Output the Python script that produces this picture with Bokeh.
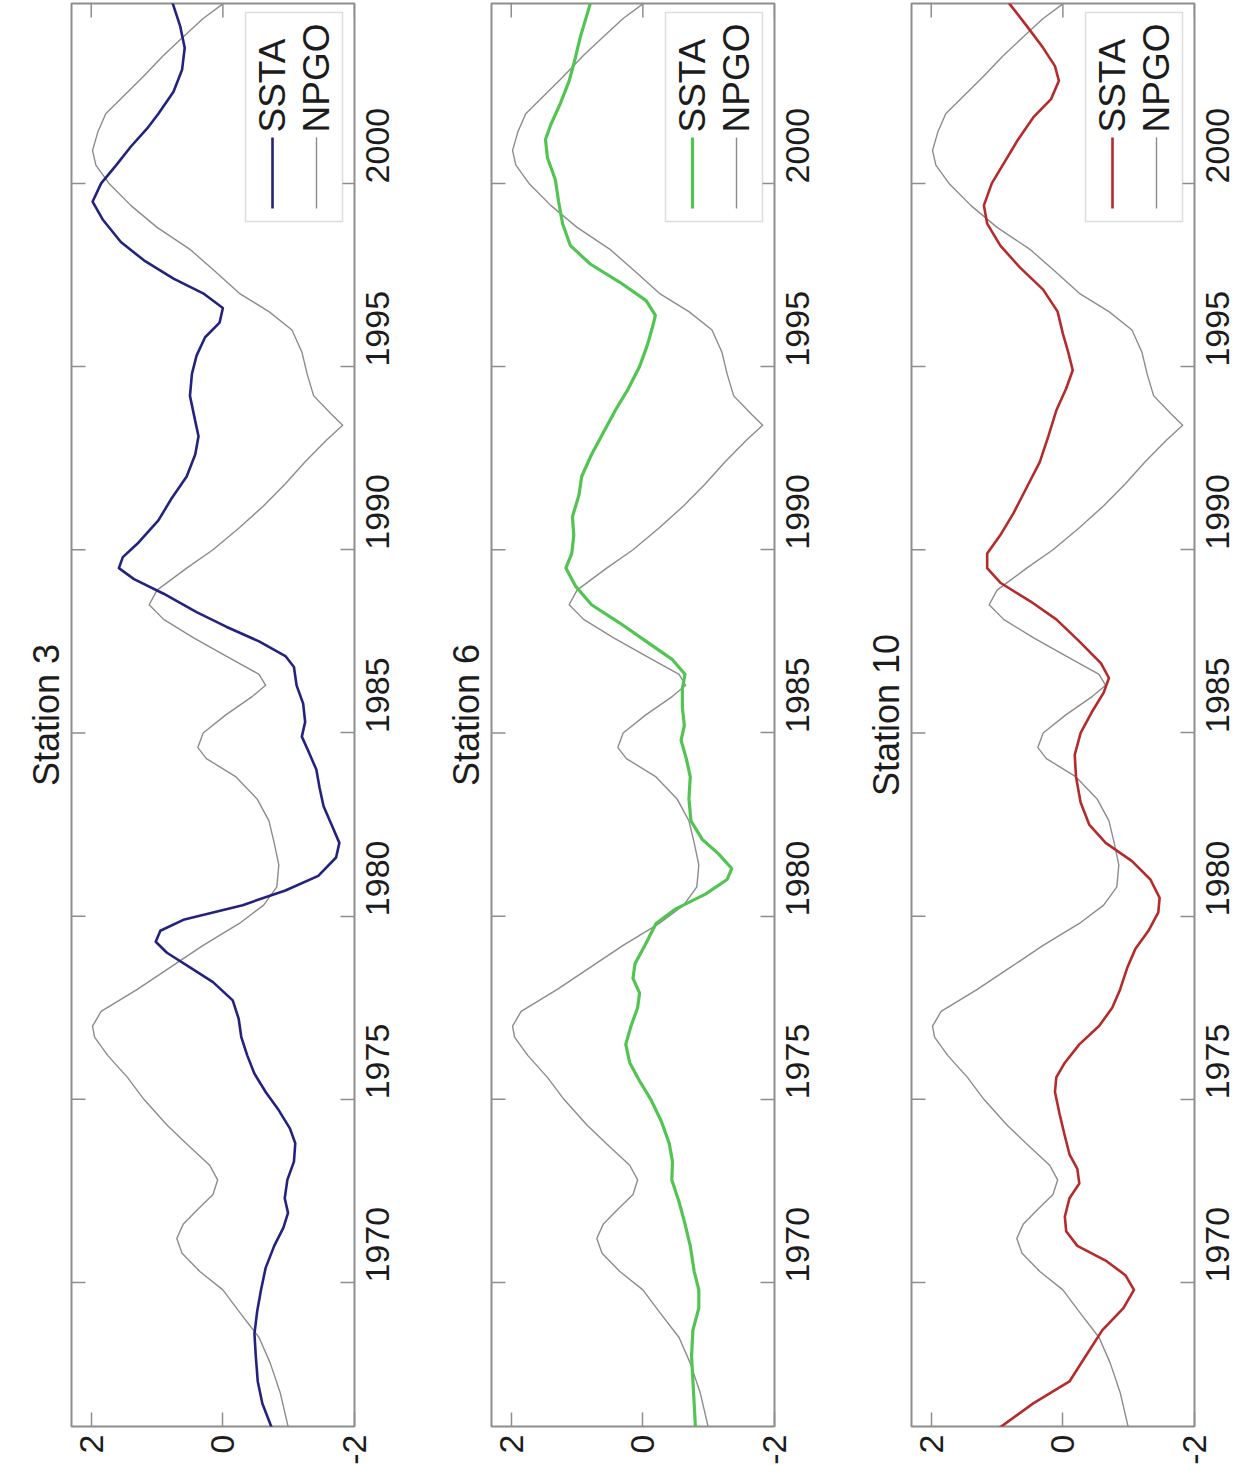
import math
from bokeh.plotting import figure
from bokeh.models import Range1d, FixedTicker, BoxAnnotation, Label, Arrow
from bokeh.layouts import row
from bokeh.embed import file_html
from bokeh.resources import INLINE

# ---------------- data ----------------
npgo_year = [1966.0, 1967.0, 1967.8, 1968.5, 1969.2, 1969.8, 1970.3, 1970.8, 1971.2, 1971.6,
             1972.0, 1972.4, 1972.8, 1973.2, 1973.7, 1974.3, 1975.0, 1975.6, 1976.2, 1976.7,
             1977.0, 1977.4, 1978.0, 1978.6, 1979.2, 1979.8, 1980.3, 1980.8, 1981.4, 1982.0,
             1982.6, 1983.2, 1983.8, 1984.3, 1984.6, 1985.0, 1985.5, 1986.0, 1986.3, 1986.6,
             1987.1, 1987.6, 1988.1, 1988.5, 1988.9, 1989.5, 1990.0, 1990.6, 1991.2, 1991.8,
             1992.4, 1993.0, 1993.4, 1993.7, 1994.2, 1994.8, 1995.4, 1996.0, 1996.5, 1997.0,
             1997.6, 1998.2, 1998.8, 1999.4, 2000.0, 2000.5, 2000.9, 2001.4, 2001.9, 2002.4,
             2002.9, 2003.5, 2004.0, 2004.5, 2004.9]
npgo_val = [-1.0, -0.87, -0.72, -0.55, -0.25, 0.0, 0.35, 0.62, 0.7, 0.6,
            0.38, 0.15, 0.08, 0.2, 0.5, 0.85, 1.2, 1.45, 1.75, 1.95,
            1.98, 1.85, 1.3, 0.8, 0.3, -0.25, -0.62, -0.82, -0.85, -0.78,
            -0.7, -0.52, -0.2, 0.25, 0.38, 0.3, -0.05, -0.45, -0.65, -0.55,
            -0.05, 0.45, 0.9, 1.12, 1.0, 0.55, 0.15, -0.25, -0.62, -0.95,
            -1.25, -1.58, -1.82, -1.65, -1.38, -1.28, -1.2, -1.05, -0.7, -0.25,
            0.12, 0.5, 1.0, 1.4, 1.73, 1.93, 1.98, 1.9, 1.78, 1.5,
            1.22, 0.9, 0.6, 0.3, 0.0]

st3_year = [1966.0, 1966.7, 1967.3, 1968.0, 1968.6, 1969.2, 1969.8, 1970.4, 1971.0, 1971.5,
            1971.9, 1972.3, 1972.8, 1973.3, 1973.8, 1974.2, 1974.7, 1975.2, 1975.7, 1976.2,
            1976.7, 1977.2, 1977.7, 1978.2, 1978.6, 1979.0, 1979.3, 1979.6, 1979.9, 1980.3,
            1980.7, 1981.1, 1981.6, 1982.0, 1982.5, 1983.0, 1983.5, 1984.0, 1984.5, 1984.9,
            1985.3, 1985.8, 1986.3, 1986.8, 1987.1, 1987.5, 1987.9, 1988.3, 1988.8, 1989.2,
            1989.5, 1989.8, 1990.2, 1990.8, 1991.4, 1992.0, 1992.6, 1993.1, 1993.6, 1994.2,
            1994.8, 1995.3, 1995.8, 1996.2, 1996.6, 1997.0, 1997.4, 1997.9, 1998.4, 1999.0,
            1999.5, 2000.0, 2000.5, 2001.0, 2001.5, 2001.9, 2002.5, 2003.1, 2003.7, 2004.3,
            2004.9]
st3_val = [-0.75, -0.6, -0.53, -0.5, -0.48, -0.52, -0.58, -0.65, -0.78, -0.92,
           -0.99, -0.94, -0.98, -1.08, -1.1, -1.02, -0.85, -0.65, -0.48, -0.37,
           -0.28, -0.24, -0.15, 0.15, 0.5, 0.85, 1.02, 0.95, 0.6, -0.3,
           -0.95, -1.45, -1.72, -1.77, -1.65, -1.53, -1.47, -1.42, -1.3, -1.2,
           -1.25, -1.22, -1.12, -1.08, -0.95, -0.55, -0.05, 0.4, 0.9, 1.35,
           1.58, 1.52, 1.28, 0.98, 0.78, 0.55, 0.42, 0.37, 0.43, 0.5,
           0.47, 0.4, 0.27, 0.05, 0.0, 0.3, 0.75, 1.2, 1.55, 1.82,
           1.98, 1.85, 1.62, 1.4, 1.15, 0.98, 0.75, 0.62, 0.58, 0.65,
           0.76]

st6_year = [1966.0, 1967.0, 1968.0, 1968.7, 1969.3, 1969.8, 1970.3, 1971.0, 1971.6, 1972.2,
            1972.8, 1973.3, 1973.8, 1974.4, 1975.0, 1975.5, 1976.0, 1976.5, 1977.0, 1977.5,
            1977.9, 1978.3, 1978.7, 1979.2, 1979.8, 1980.2, 1980.6, 1981.0, 1981.3, 1981.7,
            1982.1, 1982.6, 1983.2, 1983.8, 1984.3, 1984.8, 1985.2, 1985.7, 1986.2, 1986.6,
            1987.0, 1987.5, 1988.0, 1988.5, 1989.0, 1989.5, 1989.9, 1990.4, 1990.9, 1991.5,
            1992.0, 1992.6, 1993.2, 1993.8, 1994.4, 1995.0, 1995.6, 1996.1, 1996.4, 1996.8,
            1997.3, 1997.8, 1998.3, 1998.9, 1999.5, 2000.1, 2000.7, 2001.2, 2001.6, 2002.2,
            2002.8, 2003.4, 2004.0, 2004.9]
st6_val = [-0.8, -0.77, -0.74, -0.76, -0.85, -0.85, -0.78, -0.72, -0.64, -0.55,
           -0.44, -0.45, -0.4, -0.28, -0.12, 0.05, 0.2, 0.26, 0.18, 0.08,
           0.05, 0.15, 0.12, -0.03, -0.2, -0.5, -0.95, -1.28, -1.35, -1.15,
           -0.9, -0.73, -0.7, -0.72, -0.66, -0.58, -0.63, -0.6, -0.6, -0.64,
           -0.45, -0.05, 0.35, 0.78, 1.02, 1.17, 1.08, 1.05, 1.07, 0.97,
           0.93, 0.78, 0.6, 0.42, 0.22, 0.05, -0.07, -0.15, -0.19, -0.05,
           0.35, 0.8, 1.1, 1.22, 1.28, 1.33, 1.45, 1.48, 1.4, 1.25,
           1.12, 1.03, 0.95, 0.8]

st10_year = [1966.0, 1966.7, 1967.3, 1968.0, 1968.7, 1969.3, 1969.8, 1970.2, 1970.6, 1971.0,
             1971.4, 1971.8, 1972.3, 1972.7, 1973.1, 1973.5, 1974.0, 1974.6, 1975.2, 1975.6,
             1976.0, 1976.5, 1977.0, 1977.5, 1978.0, 1978.6, 1979.1, 1979.6, 1980.1, 1980.5,
             1981.0, 1981.5, 1982.0, 1982.5, 1983.1, 1983.8, 1984.4, 1985.0, 1985.6, 1986.1,
             1986.5, 1986.9, 1987.5, 1988.1, 1988.6, 1989.1, 1989.5, 1989.9, 1990.4, 1991.0,
             1991.7, 1992.4, 1993.1, 1993.8, 1994.4, 1994.9, 1995.4, 1995.9, 1996.5, 1997.1,
             1997.7, 1998.3, 1998.9, 1999.4, 2000.0, 2000.6, 2001.2, 2001.8, 2002.3, 2002.8,
             2003.2, 2003.7, 2004.3, 2004.9]
st10_val = [0.99, 0.45, -0.1, -0.35, -0.6, -0.92, -1.08, -0.95, -0.65, -0.22,
            -0.05, -0.03, -0.1, -0.25, -0.22, -0.1, -0.03, 0.05, 0.12, 0.1,
            -0.03, -0.25, -0.55, -0.75, -0.87, -0.98, -1.1, -1.3, -1.45, -1.47,
            -1.33, -1.05, -0.65, -0.4, -0.27, -0.2, -0.18, -0.27, -0.45, -0.62,
            -0.7, -0.58, -0.25, 0.1, 0.5, 0.95, 1.15, 1.15, 0.95, 0.75,
            0.55, 0.35, 0.22, 0.1, -0.05, -0.15, -0.08, 0.0, 0.08, 0.3,
            0.65, 0.95, 1.15, 1.2, 1.08, 0.88, 0.68, 0.45, 0.18, 0.06,
            0.12, 0.3, 0.55, 0.81]

station_titles = ["Station 3", "Station 6", "Station 10"]
station_colors = ["#23237f", "#52c452", "#b52a2a"]
legend_labels = ["SSTA", "NPGO"]
year_ticks = [1970, 1975, 1980, 1985, 1990, 1995, 2000]
value_ticks = [-2, 0, 2]

# ---------------- styling ----------------
FONT = "Liberation Sans"
FS = "34px"
FRAME_COL = "#8e8e8e"
NPGO_COL = "#8c8c8c"
FRAME_W, FRAME_H = 283, 1423
VAL_START, VAL_END = 2.3, -2.0
YEAR_START, YEAR_END = 1966.07, 2004.91
PPX = FRAME_W / (VAL_START - VAL_END)      # pixels per value unit
PPY = FRAME_H / (YEAR_END - YEAR_START)    # pixels per year
TICK = 14


def px_x(dx):
    """value at dx pixels right of the frame's left edge"""
    return VAL_START - dx / PPX


def px_y(dy):
    """year at dy pixels below the frame's top edge"""
    return YEAR_END - dy / PPY


def style_axis(ax, standoff):
    ax.axis_line_color = None
    ax.major_tick_line_color = FRAME_COL
    ax.major_tick_line_width = 1.5
    ax.major_tick_in = TICK
    ax.major_tick_out = 0
    ax.minor_tick_line_color = None
    ax.major_label_text_font = FONT
    ax.major_label_text_font_size = FS
    ax.major_label_text_color = "#1c1c1c"
    ax.major_label_orientation = math.pi / 2
    ax.major_label_standoff = standoff


def make_panel(title, yrs, vals, color, lw):
    p = figure(frame_width=FRAME_W, frame_height=FRAME_H,
               x_range=Range1d(VAL_START, VAL_END), y_range=Range1d(YEAR_START, YEAR_END),
               output_backend="svg", toolbar_location=None,
               title=title, title_location="left",
               x_axis_location="below", y_axis_location="right",
               min_border_left=71, min_border_right=66, min_border_top=3, min_border_bottom=50)
    p.title.text_font = FONT
    p.title.text_font_size = "36px"
    p.title.text_font_style = "normal"
    p.title.text_color = "#1c1c1c"
    p.title.align = "center"
    p.grid.visible = False
    p.outline_line_color = FRAME_COL
    p.outline_line_width = 2
    p.background_fill_color = "white"
    p.border_fill_color = "white"

    p.xaxis.ticker = FixedTicker(ticks=value_ticks)
    p.xaxis.major_label_overrides = {v: str(v) for v in value_ticks}
    p.yaxis.ticker = FixedTicker(ticks=year_ticks)
    for ax in p.xaxis:
        style_axis(ax, 8)
    for ax in p.yaxis:
        style_axis(ax, 23)

    # mirrored tick marks on the top and left edges of the box
    for v in value_ticks:
        p.add_layout(Arrow(end=None, x_start=v, x_end=v, y_start=YEAR_END, y_end=px_y(TICK),
                           line_color=FRAME_COL, line_width=1.5))
    for t in year_ticks:
        p.add_layout(Arrow(end=None, x_start=VAL_START, x_end=px_x(TICK), y_start=t, y_end=t,
                           line_color=FRAME_COL, line_width=1.5))

    p.line(npgo_val, npgo_year, line_color=NPGO_COL, line_width=1.4,
           line_join="round", line_cap="round")
    p.line(vals, yrs, line_color=color, line_width=lw, line_join="round", line_cap="round")

    # legend (annotations, rotated like the rest of the figure)
    p.add_layout(BoxAnnotation(left=px_x(174), right=px_x(271), top=px_y(9), bottom=px_y(218),
                               fill_color="white", fill_alpha=1.0,
                               line_color=FRAME_COL, line_width=1.5))
    for k, (lab, col, w) in enumerate(zip(legend_labels, [color, NPGO_COL], [lw, 1.4])):
        cx = px_x(201 + k * 44)
        p.add_layout(Arrow(end=None, x_start=cx, x_end=cx, y_start=px_y(205), y_end=px_y(134),
                           line_color=col, line_width=w))
        p.add_layout(Label(x=cx, y=px_y(129), text=lab, angle=math.pi / 2,
                           text_align="left", text_baseline="middle",
                           text_font=FONT, text_font_size="37px", text_color="#1c1c1c"))
    return p


panels = []
series = [(st3_year, st3_val), (st6_year, st6_val), (st10_year, st10_val)]
widths = [2.6, 3.2, 2.6]
for t, (yy, vv), c, w in zip(station_titles, series, station_colors, widths):
    panels.append(make_panel(t, yy, vv, c, w))

layout = row(*panels)
open("out.html", "w").write(file_html(layout, INLINE))
